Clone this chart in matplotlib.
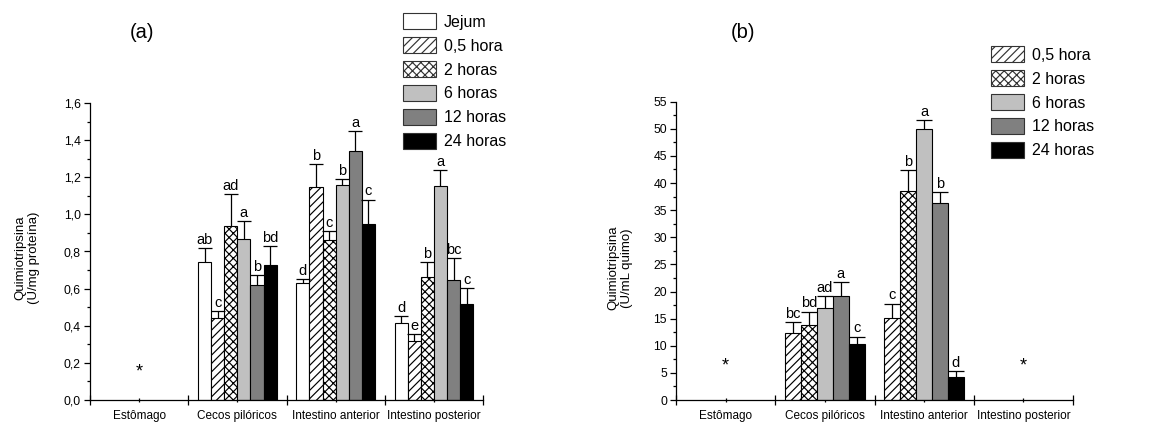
import numpy as np
import matplotlib
matplotlib.use("Agg")
import matplotlib.pyplot as plt
from matplotlib.patches import Patch
from matplotlib.ticker import MultipleLocator, FixedLocator, NullFormatter, FixedFormatter

plt.rcParams['font.family'] = ['Liberation Sans', 'DejaVu Sans']
plt.rcParams['hatch.linewidth'] = 0.85

categories = ['Estômago', 'Cecos pilóricos', 'Intestino anterior', 'Intestino posterior']

# Panel (a): U/mg proteína  (values for Cecos, Int. anterior, Int. posterior)
series_a = ['Jejum', '0,5 hora', '2 horas', '6 horas', '12 horas', '24 horas']
vals_a = {
    'Jejum':    [0.746, 0.630, 0.414],
    '0,5 hora': [0.440, 1.149, 0.318],
    '2 horas':  [0.940, 0.863, 0.662],
    '6 horas':  [0.870, 1.160, 1.155],
    '12 horas': [0.619, 1.340, 0.644],
    '24 horas': [0.728, 0.950, 0.516],
}
err_a = {
    'Jejum':    [0.072, 0.021, 0.036],
    '0,5 hora': [0.037, 0.121, 0.036],
    '2 horas':  [0.170, 0.045, 0.083],
    '6 horas':  [0.092, 0.030, 0.082],
    '12 horas': [0.052, 0.108, 0.120],
    '24 horas': [0.101, 0.130, 0.087],
}
letters_a = {
    'Jejum':    ['ab', 'd', 'd'],
    '0,5 hora': ['c', 'b', 'e'],
    '2 horas':  ['ad', 'c', 'b'],
    '6 horas':  ['a', 'b', 'a'],
    '12 horas': ['b', 'a', 'bc'],
    '24 horas': ['bd', 'c', 'c'],
}
cats_a = [1, 2, 3]          # category indices that have bars
stars_a = [(0, 0.15)]       # (category index, y)

# Panel (b): U/mL quimo (values for Cecos, Int. anterior)
series_b = ['0,5 hora', '2 horas', '6 horas', '12 horas', '24 horas']
vals_b = {
    '0,5 hora': [12.4, 15.06],
    '2 horas':  [13.8, 38.5],
    '6 horas':  [16.9, 50.0],
    '12 horas': [19.2, 36.4],
    '24 horas': [10.3, 4.3],
}
err_b = {
    '0,5 hora': [2.0, 2.7],
    '2 horas':  [2.5, 3.9],
    '6 horas':  [2.3, 1.6],
    '12 horas': [2.5, 1.9],
    '24 horas': [1.4, 1.1],
}
letters_b = {
    '0,5 hora': ['bc', 'c'],
    '2 horas':  ['bd', 'b'],
    '6 horas':  ['ad', 'a'],
    '12 horas': ['a', 'b'],
    '24 horas': ['c', 'd'],
}
cats_b = [1, 2]
stars_b = [(0, 6.3), (3, 6.3)]

styles = {
    'Jejum':    dict(facecolor='white', hatch=None),
    '0,5 hora': dict(facecolor='white', hatch='////'),
    '2 horas':  dict(facecolor='white', hatch='xxxx'),
    '6 horas':  dict(facecolor='#c0c0c0', hatch=None),
    '12 horas': dict(facecolor='#808080', hatch=None),
    '24 horas': dict(facecolor='black', hatch=None),
}

fig = plt.figure(figsize=(11.57, 4.23), dpi=100)
W, H = 1157, 423


def draw_panel(ax, series, vals, errs, letters, cats, stars, ymax, ymajor, yminor,
               fmt, capsize, ylabel, ylabel_xy, title, title_xy, leg_xy):
    n = len(series)
    group = 0.80
    w = group / n
    x0 = np.arange(len(categories))
    for i, s in enumerate(series):
        xs = x0[cats] - group / 2 + w * (i + 0.5)
        st = styles[s]
        ax.bar(xs, vals[s], width=w, facecolor=st['facecolor'], hatch=st['hatch'],
               edgecolor='black', linewidth=0.8, zorder=2)
        _, caps, _ = ax.errorbar(xs, vals[s], yerr=[np.zeros(len(xs)), errs[s]], fmt='none',
                                 ecolor='black', elinewidth=0.9, capsize=capsize,
                                 capthick=0.9, zorder=3)
        if len(caps) == 2:
            caps[0].set_visible(False)
        for xx, v, e, lab in zip(xs, vals[s], errs[s], letters[s]):
            ax.text(xx, v + e + ymax * 0.004, lab, ha='center', va='bottom', fontsize=10.5)
    for ci, yy in stars:
        ax.text(ci, yy, '*', ha='center', va='center', fontsize=13)
    ax.set_xlim(-0.5, len(categories) - 0.5)
    ax.set_ylim(0, ymax)
    ax.xaxis.set_major_locator(FixedLocator(np.arange(len(categories) + 1) - 0.5))
    ax.xaxis.set_major_formatter(NullFormatter())
    ax.xaxis.set_minor_locator(FixedLocator(x0))
    ax.xaxis.set_minor_formatter(FixedFormatter(categories))
    ax.tick_params(axis='x', which='major', direction='inout', length=7, width=0.9)
    ax.tick_params(axis='x', which='minor', direction='inout', length=2.5, width=0.9,
                   labelsize=8.5, pad=6)
    ax.yaxis.set_major_locator(MultipleLocator(ymajor))
    ax.yaxis.set_minor_locator(MultipleLocator(yminor))
    ax.yaxis.set_major_formatter(plt.FuncFormatter(lambda v, p: fmt(v)))
    ax.tick_params(axis='y', which='major', direction='out', length=4.5, width=0.9,
                   labelsize=8.8, pad=2)
    ax.tick_params(axis='y', which='minor', direction='out', length=2.5, width=0.9)
    for sp in ['top', 'right']:
        ax.spines[sp].set_visible(False)
    for sp in ['left', 'bottom']:
        ax.spines[sp].set_linewidth(0.9)
    fig.text(ylabel_xy[0] / W, 1 - ylabel_xy[1] / H, ylabel,
             rotation=90, ha='center', va='center', fontsize=9.5, linespacing=1.2)
    fig.text(title_xy[0] / W, 1 - title_xy[1] / H, title, ha='center', va='center',
             fontsize=14.5)
    handles = [Patch(facecolor=styles[s]['facecolor'], hatch=styles[s]['hatch'],
                     edgecolor='#333333', linewidth=0.8) for s in series]
    fig.legend(handles, series, loc='upper left',
               bbox_to_anchor=(leg_xy[0] / W, 1 - leg_xy[1] / H),
               bbox_transform=fig.transFigure, frameon=False, fontsize=11.5,
               handlelength=2.05, handleheight=1.15, handletextpad=0.5,
               labelspacing=0.47, borderpad=0, borderaxespad=0)


ax_a = fig.add_axes([90 / W, 1 - 400 / H, (483 - 90) / W, (400 - 103) / H])
draw_panel(ax_a, series_a, vals_a, err_a, letters_a, cats_a, stars_a,
           1.6, 0.2, 0.1, lambda v: f"{v:.1f}".replace('.', ','), 4.7,
           'Quimiotripsina\n(U/mg proteína)', (27, 258), '(a)', (142, 33), (403, 13.5))

ax_b = fig.add_axes([676 / W, 1 - 400 / H, (1073 - 676) / W, (400 - 101.7) / H])
draw_panel(ax_b, series_b, vals_b, err_b, letters_b, cats_b, stars_b,
           55, 5, 2.5, lambda v: f"{v:.0f}", 5.8,
           'Quimiotripsina\n(U/mL quimo)', (620, 268), '(b)', (743, 32), (991, 46.5))

fig.savefig('out.png', dpi=100)
